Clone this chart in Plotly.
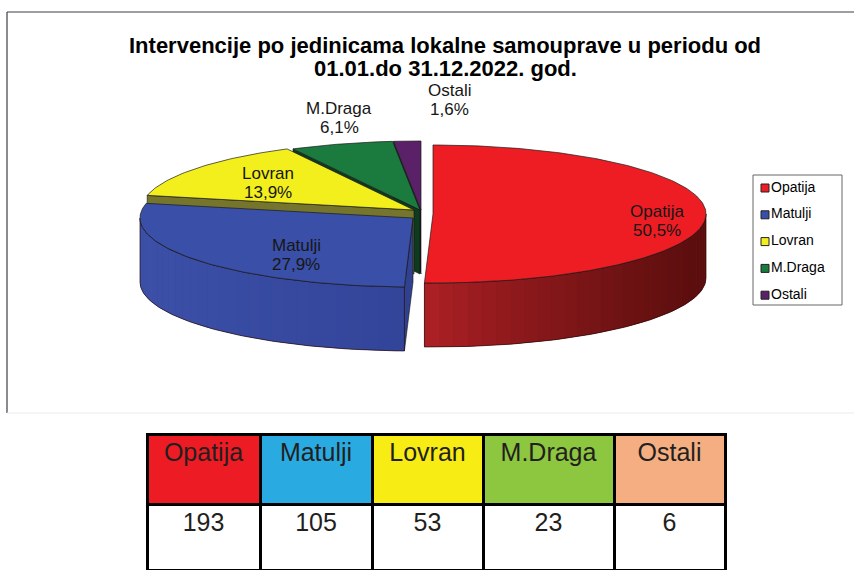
import numpy as np
import plotly.graph_objects as go

# ---------------- data ----------------
categories = ["Opatija", "Matulji", "Lovran", "M.Draga", "Ostali"]
counts = [193, 105, 53, 23, 6]                 # table values
pie_percent = [50.5, 27.9, 13.9, 6.1, 1.6]     # percentages labelled on the pie

# ---------------- styles ----------------
W, H = 854, 570
FONT = "Liberation Sans, Arial, sans-serif"
top_colors = ["#EE1D24", "#3A4FA7", "#F3EF1D", "#1B7A3E", "#5B2168"]
face_colors = ["#8a1518", "#2f418f", "#76752d", "#0d3b1d", "#2b0f33"]
table_colors = ["#ED1C24", "#29ABE2", "#F7EC13", "#8DC63F", "#F4AE82"]

CX0, CY0 = 413, 210          # pie base centre (px)
RX, RY, DEPTH = 273, 69, 64  # ellipse radii and thickness (px)
EXPLODE = [(20, 4), (0, 8), (1, 0), (7, 0), (8, 0)]   # per-slice offsets (px)
LABEL_XY = [(657, 221), (296, 255), (268, 183), (339, 118), (449, 100)]

fig = go.Figure()


def poly(xs, ys, fill, line_color=None, lw=0.0):
    fig.add_trace(go.Scatter(
        x=list(xs) + [xs[0]], y=list(ys) + [ys[0]], mode="lines", fill="toself",
        fillcolor=fill, line=dict(color=line_color or fill, width=lw),
        hoverinfo="skip", showlegend=False))


def arc(cx, cy, a, b, n=None):
    if n is None:
        n = max(2, int(abs(b - a)) + 2)
    th = np.radians(np.linspace(a, b, n))
    return cx + RX * np.sin(th), cy - RY * np.cos(th)


def lerp(c1, c2, t):
    return "rgb(%d,%d,%d)" % tuple(int(round(c1[i] + (c2[i] - c1[i]) * t)) for i in range(3))


# slice angles (clockwise from 12 o'clock)
angles = np.cumsum([0] + [p / sum(pie_percent) * 360 for p in pie_percent])
slices = []
for i in range(len(categories)):
    cx, cy = CX0 + EXPLODE[i][0], CY0 + EXPLODE[i][1]
    slices.append((i, angles[i], angles[i + 1], cx, cy))

side_grad = {0: ((170, 32, 36), (88, 13, 13)), 1: ((60, 80, 168), (50, 68, 152))}

draw_order = [4, 3, 2, 0, 1]
for i in draw_order:
    _, a, b, cx, cy = slices[i]
    # radial cut faces
    for ang, vis in ((a, np.sin(np.radians(a)) < -1e-6), (b, np.sin(np.radians(b)) > 1e-6)):
        if vis:
            ex, ey = cx + RX * np.sin(np.radians(ang)), cy - RY * np.cos(np.radians(ang))
            poly([cx, ex, ex, cx], [cy, ey, ey + DEPTH, cy + DEPTH], face_colors[i], "#111111", 0.6)
    # outer side (front half only)
    s, e = max(a, 90), min(b, 270)
    if e > s:
        c1, c2 = side_grad.get(i, ((100, 100, 100), (60, 60, 60)))
        xs, ys = arc(cx, cy, s, e)
        mid = lerp(c1, c2, 0.5)
        poly(list(xs) + list(xs[::-1]), list(ys) + list((ys + DEPTH)[::-1]), mid, mid, 0)
        nseg = 30
        edges = np.linspace(s, e, nseg + 1)
        for k in range(nseg):
            sx, sy = arc(cx, cy, edges[k], edges[k + 1], 4)
            xm = sx.mean()
            if i == 1:
                t = np.clip((xm - (cx - RX)) / RX, 0, 1)
            else:
                t = np.clip((xm - cx) / RX, 0, 1) ** 0.9
            col = lerp(c1, c2, t)
            poly(list(sx) + list(sx[::-1]), list(sy) + list((sy + DEPTH)[::-1]), col, col, 0)
        fig.add_trace(go.Scatter(
            x=list(xs) + list(xs[::-1]) + [xs[0]],
            y=list(ys) + list((ys + DEPTH)[::-1]) + [ys[0]],
            mode="lines", line=dict(color="#2a0a0a", width=0.7),
            hoverinfo="skip", showlegend=False))
    # top face
    xs, ys = arc(cx, cy, a, b)
    poly([cx] + list(xs), [cy] + list(ys), top_colors[i], "#1a1a1a", 0.7)

# slice labels
annotations = []
for i, name in enumerate(categories):
    lx, ly = LABEL_XY[i]
    pct = ("%.1f%%" % pie_percent[i]).replace(".", ",")
    for txt, dy in ((name, -9.5), (pct, 9.5)):
        annotations.append(dict(x=lx, y=ly + dy, xref="x", yref="y", text=txt, showarrow=False,
                                font=dict(family=FONT, size=17, color="#161616"),
                                xanchor="center", yanchor="middle", borderpad=0))

# title
for txt, ty in (("<b>Intervencije po jedinicama lokalne samouprave u periodu od</b>", 45),
                ("<b>01.01.do 31.12.2022. god.</b>", 68)):
    annotations.append(dict(x=445, y=ty, xref="x", yref="y", showarrow=False, text=txt,
                            font=dict(family=FONT, size=22, color="#000000"),
                            xanchor="center", yanchor="middle", borderpad=0))

# legend (manual, boxed)
LEG_X0, LEG_Y0, LEG_X1, LEG_Y1 = 753, 175, 842, 305
leg_y = [188 + 26.8 * k for k in range(len(categories))]
fig.add_trace(go.Scatter(
    x=[765] * len(categories), y=leg_y, mode="markers+text",
    marker=dict(symbol="square", size=8, color=top_colors, line=dict(color="#222222", width=1)),
    text=categories, textposition="middle right",
    textfont=dict(family=FONT, size=14, color="#000000"),
    hoverinfo="skip", showlegend=False))

shapes = [
    dict(type="rect", xref="x", yref="y", x0=LEG_X0, y0=LEG_Y0, x1=LEG_X1, y1=LEG_Y1,
         line=dict(color="#666666", width=1), fillcolor="rgba(0,0,0,0)", layer="below"),
    dict(type="line", xref="x", yref="y", x0=7, y0=12, x1=860, y1=12, line=dict(color="#3c3c4c", width=1.2)),
    dict(type="line", xref="x", yref="y", x0=7, y0=12, x1=7, y1=413, line=dict(color="#3c3c4c", width=1.2)),
    dict(type="line", xref="x", yref="y", x0=7, y0=413, x1=860, y1=413, line=dict(color="#ebebf2", width=1)),
]

# table
TBL_X0, TBL_X1, TBL_TOP = 147, 725, 434
fig.add_trace(go.Table(
    domain=dict(x=[TBL_X0 / W, TBL_X1 / W], y=[0, (H - TBL_TOP) / H]),
    columnwidth=[113, 112, 111, 131, 111],
    header=dict(values=categories, fill_color=table_colors, align="center",
                font=dict(family=FONT, size=25, color="#231F20"),
                line=dict(color="#000000", width=3), height=70),
    cells=dict(values=[[c] for c in counts], fill_color="#FFFFFF", align="center",
               font=dict(family=FONT, size=25, color="#231F20"),
               line=dict(color="#000000", width=3), height=66),
))

fig.update_layout(
    width=W, height=H, margin=dict(l=0, r=0, t=0, b=0),
    paper_bgcolor="#FFFFFF", plot_bgcolor="#FFFFFF",
    xaxis=dict(range=[0, W], visible=False, fixedrange=True, domain=[0, 1]),
    yaxis=dict(range=[H, 0], visible=False, fixedrange=True, domain=[0, 1]),
    annotations=annotations, shapes=shapes, showlegend=False,
)

fig.write_html("out.html", config={"displayModeBar": False},
               post_script="document.body.style.margin='0';document.body.style.overflow='hidden';")
